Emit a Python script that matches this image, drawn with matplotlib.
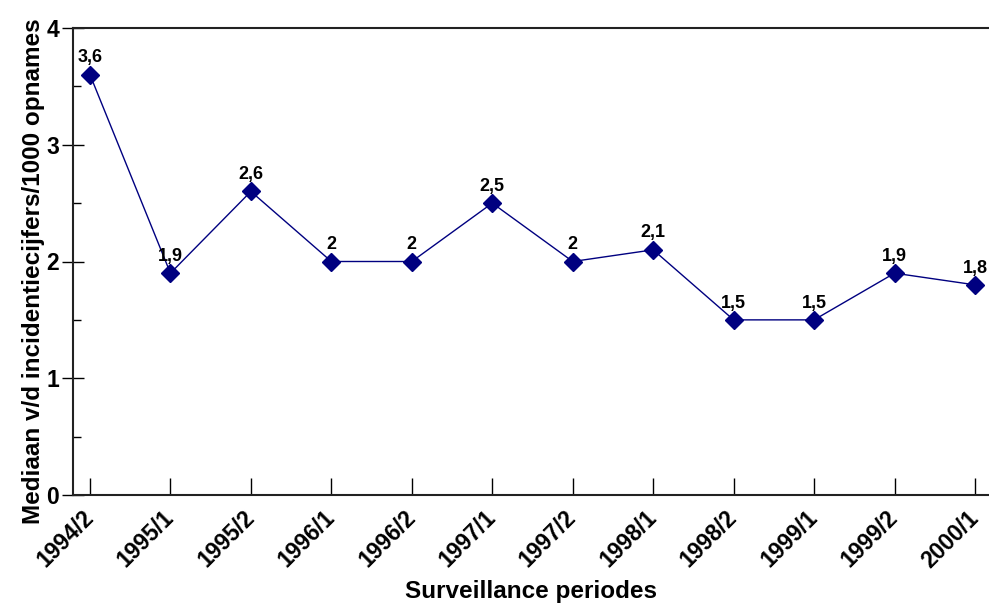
import numpy as np
import matplotlib
matplotlib.use("Agg")
import matplotlib.pyplot as plt
from matplotlib.ticker import MultipleLocator

periodes = ["1994/2", "1995/1", "1995/2", "1996/1", "1996/2", "1997/1",
            "1997/2", "1998/1", "1998/2", "1999/1", "1999/2", "2000/1"]
mediaan = [3.6, 1.9, 2.6, 2.0, 2.0, 2.5, 2.0, 2.1, 1.5, 1.5, 1.9, 1.8]
labels = ["3,6", "1,9", "2,6", "2", "2", "2,5", "2", "2,1", "1,5", "1,5", "1,9", "1,8"]

plt.rcParams['font.family'] = ['Liberation Sans', 'DejaVu Sans']
plt.rcParams['font.weight'] = 'bold'

fig = plt.figure(figsize=(9.89, 6.04), dpi=100)
ax = fig.add_axes([73/989, 1 - 495/604, 916/989, 467/604])

x = np.arange(len(periodes))
ax.plot(x, mediaan, color='#000080', lw=1, marker='D', ms=9,
        markerfacecolor='#000080', markeredgecolor='#000080')

for xi, yi, t in zip(x, mediaan, labels):
    ax.annotate(t, (xi, yi), xytext=(0, 6), textcoords='offset points',
                ha='center', va='bottom', fontsize=13, fontweight='bold')

ax.set_xlim(-0.211, 11.174)
ax.set_ylim(0, 4)
ax.set_xticks(x)
ax.set_xticklabels(periodes, rotation=45, ha='right', va='center',
                   rotation_mode='anchor', fontsize=16.5, fontweight='bold')
ax.yaxis.set_major_locator(MultipleLocator(1))
ax.yaxis.set_minor_locator(MultipleLocator(0.5))
ax.tick_params(axis='y', which='major', direction='inout', length=16, width=1,
               labelsize=16.5, pad=2)
ax.tick_params(axis='y', which='minor', direction='in', length=6, width=1)
ax.tick_params(axis='x', direction='in', length=12, width=1, pad=14)
for lab in ax.get_yticklabels():
    lab.set_fontweight('bold')

ax.spines['right'].set_visible(False)
for s in ['left', 'bottom', 'top']:
    ax.spines[s].set_linewidth(1.5)
    ax.spines[s].set_color('#222222')

ax.set_ylabel("Mediaan v/d incidentiecijfers/1000 opnames", fontsize=17.5,
              fontweight='bold', labelpad=1)
ax.yaxis.label.set_y(0.48)
ax.set_xlabel("Surveillance periodes", fontsize=17.5, fontweight='bold',
              labelpad=6)

fig.savefig("out.png", dpi=100)
